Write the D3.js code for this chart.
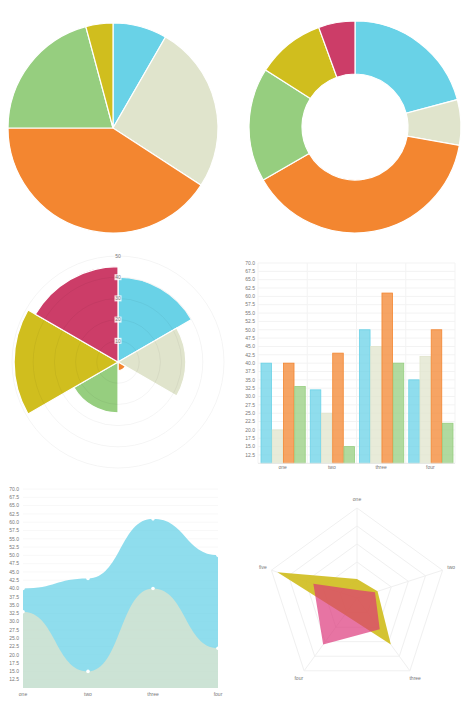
<!DOCTYPE html>
<html><head><meta charset="utf-8">
<script src="https://cdn.jsdelivr.net/npm/d3@7"></script>
<style>html,body{margin:0;padding:0;background:#fff;}svg{display:block;}text{font-family:"Liberation Sans",Arial,sans-serif;fill:#777;}</style>
</head><body>
<svg id="c" width="470" height="716"></svg>
<script>
// ---------- data ----------
const colBlue = "#69D2E7", colBeige = "#E0E4CC", colOrange = "#F38630", colGreen = "#96CE7F", colYellow = "#D0BE1E", colRed = "#CC3D68";

const pieValues = [10, 31, 49, 25, 5];
const pieColors = [colBlue, colBeige, colOrange, colGreen, colYellow];

const donutValues = [30, 10, 56, 25, 15, 8];
const donutColors = [colBlue, colBeige, colOrange, colGreen, colYellow, colRed];

const polarValues = [40, 32, 4, 24, 49, 45];
const polarColors = [colBlue, colBeige, colOrange, colGreen, colYellow, colRed];
const polarTicks = [10, 20, 30, 40, 50];

const categories = ["one", "two", "three", "four"];
const barSeriesNames = ["a", "b", "c", "d"];
const barBlue = [40, 32, 50, 35];
const barBeige = [20, 25, 45, 42];
const barOrange = [40, 43, 61, 50];
const barGreen = [33, 15, 40, 22];
const barColors = [colBlue, colBeige, colOrange, colGreen];
const yTicks = [12.5, 15, 17.5, 20, 22.5, 25, 27.5, 30, 32.5, 35, 37.5, 40, 42.5, 45, 47.5, 50, 52.5, 55, 57.5, 60, 62.5, 65, 67.5, 70];

const lineBlue = [40, 43, 61, 50];
const lineGrey = [33, 15, 40, 22];

const radarAxes = ["one", "two", "three", "four", "five"];
const radarYellow = [21, 24, 64, 23, 93];
const radarPink = [9, 21, 43, 64, 51];
const radarRings = [20, 40, 60, 80, 100];

const svg = d3.select("#c");

// ---------- pie ----------
{
  const g = svg.append("g").attr("transform", "translate(113,128)");
  const arcs = d3.pie().sort(null)(pieValues);
  const arc = d3.arc().innerRadius(0).outerRadius(105);
  g.selectAll("path").data(arcs).join("path")
    .attr("d", arc).attr("fill", (d, i) => pieColors[i])
    .attr("stroke", "#fff").attr("stroke-width", 1.2);
}
// ---------- donut ----------
{
  const g = svg.append("g").attr("transform", "translate(355,127)");
  const arcs = d3.pie().sort(null)(donutValues);
  const arc = d3.arc().innerRadius(53).outerRadius(106);
  g.selectAll("path").data(arcs).join("path")
    .attr("d", arc).attr("fill", (d, i) => donutColors[i])
    .attr("stroke", "#fff").attr("stroke-width", 1.2);
}
// ---------- polar area ----------
{
  const g = svg.append("g").attr("transform", "translate(118,362)");
  const r = d3.scaleLinear().domain([0, 50]).range([0, 106]);
  const step = 2 * Math.PI / polarValues.length;
  const arc = d3.arc().innerRadius(0);
  g.selectAll("path").data(polarValues).join("path")
    .attr("d", (v, i) => arc({outerRadius: r(v), startAngle: i * step, endAngle: (i + 1) * step}))
    .attr("fill", (d, i) => polarColors[i])
    .attr("stroke", "#fff").attr("stroke-width", 1.2);
  g.selectAll("circle.ring").data(polarTicks).join("circle")
    .attr("class", "ring").attr("r", d => r(d)).attr("fill", "none")
    .attr("stroke", "rgba(0,0,0,0.045)").attr("stroke-width", 1);
  const lab = g.selectAll("g.lab").data(polarTicks).join("g").attr("class", "lab")
    .attr("transform", d => `translate(0,${-r(d)})`);
  lab.filter(d => d < 50).append("rect").attr("x", -3.5).attr("y", -3).attr("width", 7).attr("height", 6).attr("fill", "#fff").attr("fill-opacity", 0.85);
  lab.append("text").attr("text-anchor", "middle").attr("dy", "0.35em").attr("font-size", 5).text(d => d);
}
// ---------- bar ----------
{
  const y = d3.scaleLinear().domain([10, 70]).range([463.3, 263]);
  const x0 = d3.scaleBand().domain(categories).range([258, 455]);
  const x1 = d3.scaleBand().domain(barSeriesNames).range([3, x0.bandwidth() - 2]).paddingInner(0.06);
  const g = svg.append("g");
  g.selectAll("line.h").data(yTicks).join("line").attr("class", "h")
    .attr("x1", 258).attr("x2", 455).attr("y1", d => y(d)).attr("y2", d => y(d))
    .attr("stroke", "#f3f3f3").attr("stroke-width", 1);
  g.selectAll("line.v").data(categories.concat(["end"])).join("line").attr("class", "v")
    .attr("x1", (d, i) => 258 + i * x0.step()).attr("x2", (d, i) => 258 + i * x0.step())
    .attr("y1", 263).attr("y2", 463.3).attr("stroke", "#f3f3f3");
  const series = [barBlue, barBeige, barOrange, barGreen];
  series.forEach((vals, si) => {
    g.selectAll(null).data(vals).join("rect")
      .attr("x", (v, i) => x0(categories[i]) + x1(barSeriesNames[si]))
      .attr("width", x1.bandwidth())
      .attr("y", v => y(v)).attr("height", v => y(10) - y(v))
      .attr("fill", barColors[si]).attr("fill-opacity", 0.75)
      .attr("stroke", barColors[si]).attr("stroke-width", 0.8);
  });
  g.append("line").attr("x1", 258).attr("x2", 455).attr("y1", 463.3).attr("y2", 463.3).attr("stroke", "#e8e8e8");
  g.selectAll("text.y").data(yTicks).join("text").attr("class", "y")
    .attr("x", 255).attr("y", d => y(d)).attr("dy", "0.35em").attr("text-anchor", "end")
    .attr("font-size", 5).text(d => d.toFixed(1));
  g.selectAll("text.x").data(categories).join("text").attr("class", "x")
    .attr("x", d => x0(d) + x0.bandwidth() / 2).attr("y", 469).attr("text-anchor", "middle")
    .attr("font-size", 5).text(d => d);
}
// ---------- line / area ----------
{
  const y = d3.scaleLinear().domain([10, 70]).range([688, 489]);
  const x = d3.scalePoint().domain(categories).range([23, 218]);
  const g = svg.append("g");
  g.selectAll("line.h").data(yTicks).join("line").attr("class", "h")
    .attr("x1", 23).attr("x2", 218).attr("y1", d => y(d)).attr("y2", d => y(d))
    .attr("stroke", "#f8f8f8");
  const curve = d3.curveBumpX;
  const area = d3.area().x((d, i) => x(categories[i])).y0(y(10)).y1(d => y(d)).curve(curve);
  [[lineBlue, colBlue], [lineGrey, colBeige]].forEach(([vals, c]) => {
    g.append("path").datum(vals).attr("d", area).attr("fill", c).attr("fill-opacity", 0.75);
  });
  [lineBlue, lineGrey].forEach(vals => {
    g.selectAll(null).data(vals).join("circle")
      .attr("cx", (d, i) => x(categories[i])).attr("cy", d => y(d)).attr("r", 1.8)
      .attr("fill", "#fff");
  });
  g.selectAll("text.y").data(yTicks).join("text").attr("class", "y")
    .attr("x", 19).attr("y", d => y(d)).attr("dy", "0.35em").attr("text-anchor", "end")
    .attr("font-size", 5).text(d => d.toFixed(1));
  g.selectAll("text.x").data(categories).join("text").attr("class", "x")
    .attr("x", d => x(d)).attr("y", 696).attr("text-anchor", "middle")
    .attr("font-size", 5).text(d => d);
}
// ---------- radar ----------
{
  const cx = 357, cy = 598;
  const r = d3.scaleLinear().domain([0, 100]).range([0, 90]);
  const ang = i => -Math.PI / 2 + i * 2 * Math.PI / radarAxes.length;
  const pt = (v, i) => [cx + r(v) * Math.cos(ang(i)), cy + r(v) * Math.sin(ang(i))];
  const g = svg.append("g");
  const line = d3.line().curve(d3.curveLinearClosed);
  g.selectAll("path.ring").data(radarRings).join("path").attr("class", "ring")
    .attr("d", rv => line(radarAxes.map((a, i) => pt(rv, i))))
    .attr("fill", "none").attr("stroke", "#f0f0f0").attr("stroke-width", 1);
  g.selectAll("line.sp").data(radarAxes).join("line").attr("class", "sp")
    .attr("x1", cx).attr("y1", cy)
    .attr("x2", (a, i) => pt(100, i)[0]).attr("y2", (a, i) => pt(100, i)[1])
    .attr("stroke", "#f0f0f0");
  g.append("path").attr("d", line(radarYellow.map(pt)))
    .attr("fill", "#CFBC1C").attr("fill-opacity", 0.9);
  g.append("path").attr("d", line(radarPink.map(pt)))
    .attr("fill", "#DC3278").attr("fill-opacity", 0.68);
  g.selectAll("text.ax").data(radarAxes).join("text").attr("class", "ax")
    .attr("x", (a, i) => pt(110, i)[0]).attr("y", (a, i) => pt(110, i)[1])
    .attr("dy", "0.35em").attr("text-anchor", "middle").attr("font-size", 5).text(d => d);
}
</script>
</body></html>
